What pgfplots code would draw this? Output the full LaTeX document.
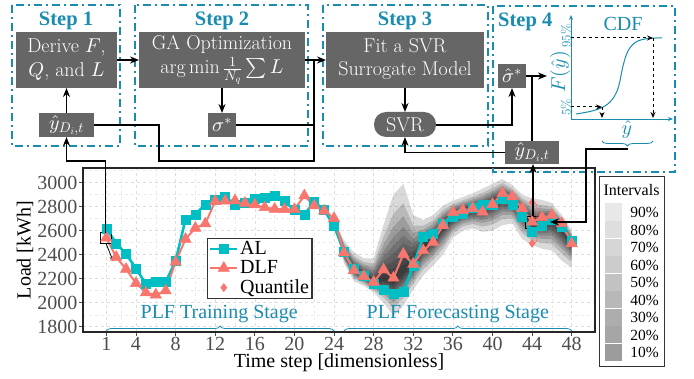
\documentclass[border=0pt]{standalone}
\DeclareFontShape{OML}{cmm}{m}{it}{<->cmmi10}{}
\DeclareFontShape{OMS}{cmsy}{m}{n}{<->cmsy10}{}
\DeclareFontShape{OMX}{cmex}{m}{n}{<->cmex10}{}
\DeclareFontShape{OT1}{cmr}{m}{n}{<->cmr10}{}
\usepackage{fontspec}
\usepackage{pgfplots}
\pgfplotsset{compat=1.18}
\usepackage{pgfplotstable}
\usepgfplotslibrary{fillbetween}
\usetikzlibrary{arrows.meta,decorations.pathreplacing}
\newfontfamily\tms{Liberation Serif}
\definecolor{steal}{RGB}{25,140,175}
\definecolor{boxg}{HTML}{666666}
\definecolor{alc}{HTML}{00BFC4}
\definecolor{dlfc}{HTML}{F8766D}
\definecolor{tickg}{HTML}{4D4D4D}
\newcommand\fs[2]{\fontsize{#1}{#2}\selectfont}

\pgfplotstableread{
t AL DLF
1 2620 2540
2 2494 2380
3 2406 2280
4 2286 2162
5 2156 2084
6 2172 2066
7 2172 2100
8 2348 2340
9 2695 2530
10 2735 2622
11 2819 2658
12 2860 2845
13 2883 2848
14 2819 2850
15 2832 2830
16 2869 2816
17 2877 2793
18 2891 2780
19 2846 2778
20 2771 2778
21 2735 2891
22 2841 2808
23 2771 2765
24 2640 2703
25 2425 2418
26 2281 2270
27 2225 2220
28 2158 2172
29 2104 2275
30 2072 2206
31 2092 2405
32 2309 2322
33 2547 2435
34 2575 2505
35 2659 2645
36 2720 2752
37 2740 2770
38 2795 2785
39 2812 2757
40 2820 2820
41 2869 2911
42 2819 2883
43 2720 2785
44 2590 2673
45 2645 2710
46 2688 2729
47 2631 2660
48 2520 2492
}\tabmain

\pgfplotstableread{
t lo c hi
24 2680 2690 2700
25 2330 2420 2520
26 2180 2280 2420
27 2140 2225 2370
28 2085 2170 2370
29 2000 2200 2650
30 1890 2180 2900
31 1975 2260 2990
32 2110 2330 2730
33 2225 2470 2690
34 2310 2530 2730
35 2400 2640 2810
36 2540 2720 2850
37 2600 2760 2880
38 2620 2780 2910
39 2590 2790 2950
40 2600 2830 2990
41 2645 2880 3030
42 2660 2850 2980
43 2530 2760 2900
44 2480 2660 2870
45 2450 2670 2855
46 2435 2690 2830
47 2350 2620 2730
48 2290 2500 2600
}\tabfan

\newcommand\band[2]{%
\addplot[draw=none, forget plot, name path=u#2] table[x=t, y expr={\thisrow{c}+#1*(\thisrow{hi}-\thisrow{c})}]{\tabfan};
\addplot[draw=none, forget plot, name path=l#2] table[x=t, y expr={\thisrow{c}-#1*(\thisrow{c}-\thisrow{lo})}]{\tabfan};
\addplot[fill=black, fill opacity=0.15, draw=none, forget plot] fill between[of=u#2 and l#2];
}

\begin{document}
\begin{tikzpicture}
\begin{axis}[
 at={(83pt,-332pt)}, anchor=south west,
 width=512pt, height=164pt, scale only axis,
 xmin=-1.35, xmax=50.35, ymin=1756, ymax=3122,
 xtick={1,4,8,12,16,20,24,28,32,36,40,44,48},
 minor xtick={2.5,6,10,14,18,22,26,30,34,38,42,46},
 ytick={1800,2000,2200,2400,2600,2800,3000},
 minor ytick={1900,2100,2300,2500,2700,2900,3100},
 grid=both,
 major grid style={dash pattern=on 3pt off 3pt, black!13, line width=0.6pt},
 minor grid style={dash pattern=on 3pt off 3pt, black!8, line width=0.4pt},
 tick align=outside, xtick pos=left, ytick pos=left,
 major tick length=4pt, minor tick length=0pt,
 tick style={tickg, line width=0.8pt},
 axis line style={black!85, line width=1.2pt},
 ticklabel style={font=\tms\fs{20}{24}, text=tickg},
 xticklabel style={inner sep=1pt},
 yticklabel style={inner sep=1.5pt},
 /pgf/number format/assume math mode=true,
 /pgf/number format/1000 sep={},
 legend style={at={(0.242,0.573)}, anchor=north west, draw=black!80, line width=1.2pt, fill=white,
   font=\tms\fs{20}{20}, inner sep=1.5pt, row sep=1.5pt, nodes={inner sep=1.5pt}, cells={anchor=west}},
 legend image code/.code={\draw[mark repeat=2,mark phase=2,#1] plot coordinates {(0pt,0pt) (13.5pt,0pt) (27pt,0pt)};},
]
\band{1}{a}
\band{0.78}{b}
\band{0.63}{c}
\band{0.51}{d}
\band{0.41}{e}
\band{0.32}{f}
\band{0.23}{g}
\band{0.15}{h}
\band{0.08}{i}
\addplot[alc, line width=2.6pt, mark=square*, mark size=4.5pt, mark options={solid, line width=0.5pt}] table[x=t,y=AL]{\tabmain};
\addlegendentry{AL}
\addplot[dlfc, line width=2pt, mark=triangle*, mark size=6.5pt, mark options={solid, line width=0.5pt}] table[x=t,y=DLF]{\tabmain};
\addlegendentry{DLF}
\addplot[dlfc, only marks, mark=diamond*, mark size=4pt, mark options={line width=0.5pt}] coordinates {(44,2835) (44,2495)};
\addlegendentry{Quantile}
% annotations
\draw[black, line width=1pt] (axis cs:0.43,2489) rectangle (axis cs:1.54,2583);
\draw[black, line width=1pt] (axis cs:43.3,2620) rectangle (axis cs:44.6,2721);
\draw[-{Stealth[length=5pt,width=4pt]}, line width=0.8pt] (axis cs:1,2489) -- (axis cs:1.7,2345);
\draw[dlfc, line width=0.8pt, decorate, decoration={brace, amplitude=4pt}] (axis cs:44.3,2830) -- (axis cs:44.3,2500);
\node[text=steal, font=\tms\fs{20}{24}] at (axis cs:12.4,1907) {PLF Training Stage};
\node[text=steal, font=\tms\fs{20}{24}] at (axis cs:36.5,1907) {PLF Forecasting Stage};
\draw[steal, line width=0.8pt, decorate, decoration={brace, amplitude=5pt}] (axis cs:1,1764) -- (axis cs:24,1764);
\draw[steal, line width=0.8pt, decorate, decoration={brace, amplitude=5pt}] (axis cs:25,1764) -- (axis cs:48,1764);
\end{axis}

\begin{scope}[x=1pt,y=-1pt]
% axis labels
\node[rotate=90, font=\tms\fs{20}{24}] at (25,250) {Load [kWh]};
\node[font=\tms\fs{20}{24}] at (339,363) {Time step [dimensionless]};
% step boxes
\tikzset{stepbox/.style={draw=steal, line width=1.5pt, dash pattern=on 8pt off 4pt on 2pt off 4pt}}
\draw[stepbox] (12,5) rectangle (120,146);
\draw[stepbox] (135,5) rectangle (308,146);
\draw[stepbox] (323,5) rectangle (488,146);
\draw[stepbox] (493,6) rectangle (675,172);
\node[text=steal, font=\tms\bfseries\fs{20.5}{24}] at (66,21) {Step 1};
\node[text=steal, font=\tms\bfseries\fs{20.5}{24}] at (222,21) {Step 2};
\node[text=steal, font=\tms\bfseries\fs{20.5}{24}] at (405,21) {Step 3};
\node[text=steal, font=\tms\bfseries\fs{20.5}{24}, anchor=west, inner sep=0pt] at (498,22) {Step 4};
% grey boxes
\fill[boxg] (16,32) rectangle (117,88);
\fill[boxg] (139,32) rectangle (305,88);
\fill[boxg] (326,32) rectangle (484,88);
\fill[boxg] (39,113) rectangle (94,137);
\fill[boxg] (208,113) rectangle (236,137);
\fill[boxg, rounded corners=12pt] (374,112) rectangle (436,137);
\fill[boxg] (498,64) rectangle (526,88);
\fill[boxg] (505,141) rectangle (559,164);
\begin{scope}[every node/.style={text=white, font=\fs{20}{24}, inner sep=0pt}]
\node[anchor=base] at (66.5,53) {Derive $F$,};
\node[anchor=base] at (66.5,77) {$Q$, and $L$};
\node[anchor=base] at (222,50) {GA Optimization};
\node[anchor=base] at (222,74) {$\arg\min\frac{1}{N_q}\sum L$};
\node[anchor=base] at (405,53) {Fit a SVR};
\node[anchor=base] at (405,76) {Surrogate Model};
\node at (66.5,125) {$\hat{y}_{D_i,t}$};
\node at (222,125) {$\sigma^*$};
\node at (405,124.5) {SVR};
\node at (512,76) {$\hat{\sigma}^*$};
\node at (532,152.5) {$\hat{y}_{D_i,t}$};
\end{scope}
% arrows
\tikzset{arr/.style={-{Stealth[length=9pt,width=7pt]}, line width=1.5pt},
         ln/.style={line width=1.5pt}}
\draw[arr] (117,60) -- (139,60);
\draw[arr] (66.5,113) -- (66.5,88);
\draw[arr] (222,88) -- (222,113);
\draw[arr] (305,60) -- (326,60);
\draw[ln] (236,125) -- (314,125);
\draw[ln] (94,125) -- (159,125) -- (159,161) -- (314,161) -- (314,60);
\draw[arr] (405,88) -- (405,112);
\draw[arr] (505,152.5) -- (405,152.5) -- (405,137);
\draw[arr] (436,125) -- (512,125) -- (512,88);
\draw[arr] (526,76) -- (547,76);
\draw[ln] (532,141) -- (532,76);
\draw[arr] (533,216) -- (533,164);
\draw[arr] (628,149) -- (586,149) -- (586,222) -- (550,222);
\draw[arr] (105.7,232.7) -- (105.7,161) -- (66.5,161) -- (66.5,137);
% CDF inset
\draw[steal, line width=0.9pt, -{Stealth[length=5pt,width=4pt]}] (571,119) -- (571,15);
\draw[steal, line width=0.9pt, -{Stealth[length=5pt,width=4pt]}] (571,119) -- (673,119);
\draw[steal, line width=1pt] plot[smooth, tension=0.6] coordinates {(576,114) (592,111) (605,106) (614,97) (619,85) (623,66) (628,51) (636,42) (648,38.5) (662,38)};
\draw[dashed, line width=1pt, -{Stealth[length=6pt,width=5pt]}] (571,38) -- (653,38);
\draw[dashed, line width=1pt, -{Stealth[length=6pt,width=5pt]}] (653,38) -- (653,118);
\draw[dashed, line width=1pt, -{Stealth[length=6pt,width=5pt]}] (571,107) -- (602,107);
\draw[dashed, line width=1pt, -{Stealth[length=6pt,width=5pt]}] (602,107) -- (602,118);
\node[text=steal, rotate=90, font=\fs{13}{15}] at (566,36) {95\%};
\node[text=steal, rotate=90, font=\fs{13}{15}] at (566,107) {5\%};
\node[text=steal, rotate=90, font=\fs{20}{24}] at (560,72) {$F(\hat{y})$};
\node[text=steal, font=\tms\fs{20}{24}] at (623,24) {CDF};
\node[text=steal, font=\fs{20}{24}] at (627,130) {$\hat{y}$};
\draw[steal, line width=0.8pt, decorate, decoration={brace, mirror, amplitude=5pt}] (602,141) -- (653,141);
% intervals legend
\draw[black!80, line width=1pt, fill=white] (599,177) rectangle (664,367);
\node[font=\tms\fs{16}{18}] at (631.5,190) {Intervals};
\fill[black!9]  (605,203.0) rectangle (622,220.6);
\fill[black!13] (605,220.6) rectangle (622,238.2);
\fill[black!16] (605,238.2) rectangle (622,255.8);
\fill[black!20] (605,255.8) rectangle (622,273.4);
\fill[black!24] (605,273.4) rectangle (622,291.0);
\fill[black!28] (605,291.0) rectangle (622,308.6);
\fill[black!32] (605,308.6) rectangle (622,326.2);
\fill[black!35] (605,326.2) rectangle (622,343.8);
\fill[black!39] (605,343.8) rectangle (622,361.4);
\draw[white, line width=0.8pt] (605,238.2) -- (622,238.2) (605,273.4) -- (622,273.4) (605,308.6) -- (622,308.6) (605,343.8) -- (622,343.8);
\begin{scope}[every node/.style={font=\tms\fs{15.5}{18}, anchor=east, inner sep=0pt}]
\node at (659,212.5) {90\%};
\node at (659,230.0) {80\%};
\node at (659,247.5) {70\%};
\node at (659,265.0) {60\%};
\node at (659,282.5) {50\%};
\node at (659,300.0) {40\%};
\node at (659,317.5) {30\%};
\node at (659,335.0) {20\%};
\node at (659,352.5) {10\%};
\end{scope}
\end{scope}
\pgfresetboundingbox
\path[use as bounding box] (0pt,0pt) rectangle (694pt,-379pt);
\end{tikzpicture}
\end{document}
